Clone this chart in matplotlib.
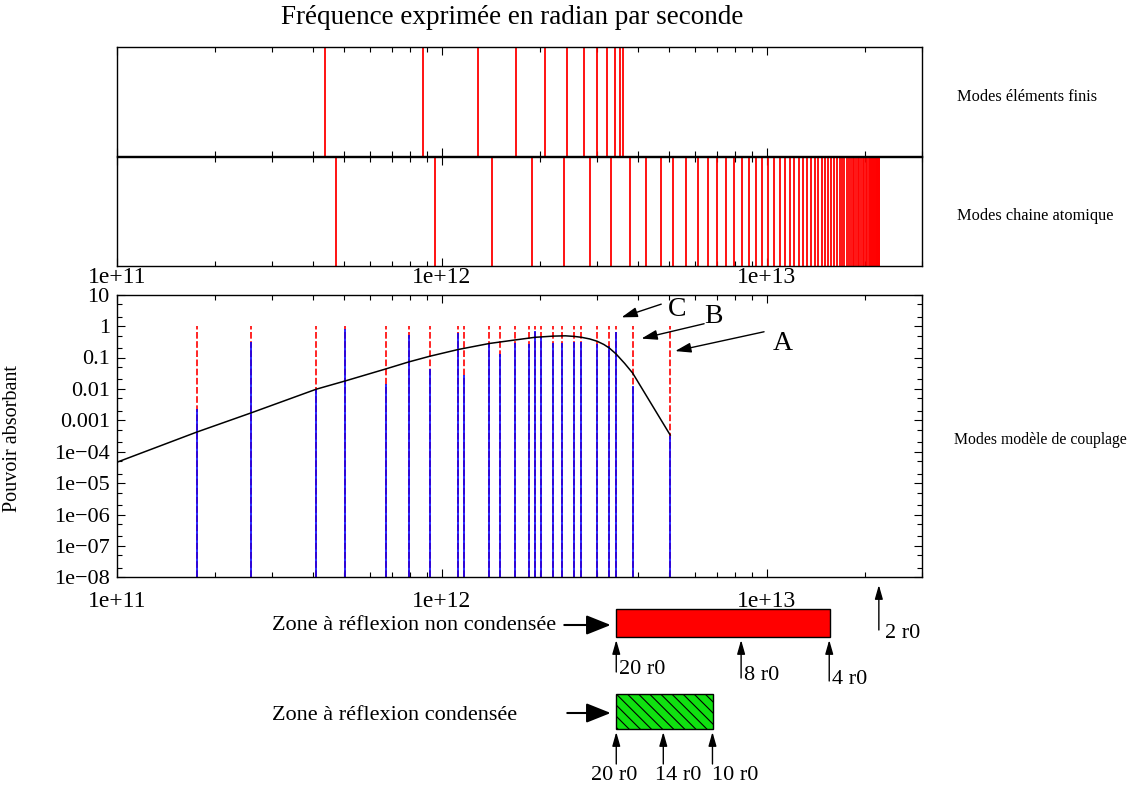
import numpy as np
import matplotlib
matplotlib.use("Agg")
import matplotlib.pyplot as plt
from matplotlib.ticker import LogLocator, NullFormatter

plt.rcParams['font.family'] = ['Liberation Serif', 'DejaVu Serif']
plt.rcParams['hatch.linewidth'] = 0.8

# modes elements finis (rad/s)
fe_modes = [4.38e11, 8.72e11, 1.29e12, 1.69e12, 2.07e12, 2.42e12, 2.73e12,
            3.00e12, 3.22e12, 3.41e12, 3.53e12, 3.62e12]

# modes chaine atomique (rad/s)
chain_modes = [4.74e11, 9.50e11, 1.43e12, 1.90e12, 2.38e12, 2.86e12, 3.32e12,
               3.79e12, 4.26e12, 4.73e12, 5.15e12, 5.63e12, 6.12e12, 6.58e12,
               7.02e12, 7.48e12, 7.93e12, 8.37e12, 8.82e12, 9.27e12, 9.69e12,
               1.011e13, 1.052e13, 1.095e13, 1.137e13, 1.176e13, 1.215e13,
               1.253e13, 1.292e13, 1.329e13, 1.367e13, 1.404e13, 1.440e13,
               1.475e13, 1.510e13, 1.545e13, 1.578e13, 1.612e13, 1.643e13,
               1.675e13, 1.702e13, 1.730e13, 1.760e13, 1.785e13, 1.810e13,
               1.836e13, 1.857e13, 1.879e13, 1.902e13, 1.926e13, 1.950e13,
               1.972e13, 1.994e13, 2.016e13, 2.036e13, 2.054e13, 2.073e13,
               2.091e13, 2.107e13, 2.124e13, 2.139e13, 2.153e13, 2.165e13,
               2.177e13, 2.188e13, 2.197e13, 2.205e13, 2.213e13, 2.219e13]

# modes modele de couplage : frequence et pouvoir absorbant
coupling_freq = [1.76e11, 2.58e11, 4.11e11, 5.05e11, 6.71e11, 7.90e11, 9.19e11,
                 1.123e12, 1.172e12, 1.401e12, 1.508e12, 1.673e12, 1.856e12,
                 1.936e12, 2.020e12, 2.204e12, 2.344e12, 2.551e12, 2.687e12,
                 3.002e12, 3.275e12, 3.434e12, 3.863e12, 5.04e12]
coupling_abs = [2.3e-3, 0.32, 9.8e-3, 0.79, 0.0145, 0.52, 0.043, 0.62, 0.028,
                0.28, 0.126, 0.30, 0.26, 0.70, 0.46, 0.30, 0.30, 0.32, 0.32,
                0.27, 0.24, 0.66, 0.0123, 3.2e-4]

# enveloppe du pouvoir absorbant
curve_freq = [1.0e11, 1.76e11, 2.58e11, 4.11e11, 5.05e11, 6.71e11, 7.90e11,
              9.19e11, 1.123e12, 1.401e12, 1.673e12, 1.936e12, 2.204e12,
              2.400e12, 2.551e12, 2.687e12, 2.850e12, 3.002e12, 3.150e12,
              3.275e12, 3.434e12, 3.650e12, 3.863e12, 4.35e12, 5.04e12]
curve_abs = [4.6e-5, 4.2e-4, 1.7e-3, 9.8e-3, 0.018, 0.043, 0.072, 0.11, 0.18,
             0.28, 0.36, 0.44, 0.48, 0.49, 0.47, 0.44, 0.39, 0.33, 0.26,
             0.20, 0.13, 0.065, 0.032, 4.2e-3, 3.4e-4]

# zones de reflexion
zone_nc = [3.44e12, 1.565e13]
zone_c = [3.44e12, 6.85e12]
nc_marks = [3.44e12, 8.33e12, 1.555e13]
nc_labels = ['20 r0', '8 r0', '4 r0']
c_marks = [3.44e12, 4.80e12, 6.80e12]
c_labels = ['20 r0', '14 r0', '10 r0']
extra_mark = 2.21e13
extra_label = '2 r0'

xticks = [1e11, 1e12, 1e13]
xtick_labels = ['1e+11', '1e+12', '1e+13']
yticks = [1e-8, 1e-7, 1e-6, 1e-5, 1e-4, 1e-3, 1e-2, 1e-1, 1, 10]
ytick_labels = ['1e\u221208', '1e\u221207', '1e\u221206', '1e\u221205', '1e\u221204',
                '0.001', '0.01', '0.1', '1', '10']

W, H = 1133, 787
fig = plt.figure(figsize=(W / 100, H / 100), dpi=100)

left = 116.8 / W
width = (922 - 116.8) / W
xlim = (1e11, 3e13)


def setup_x(ax):
    ax.set_xscale('log')
    ax.set_xlim(*xlim)
    ax.set_xticks(xticks)
    ax.set_xticklabels(xtick_labels)
    ax.xaxis.set_minor_locator(LogLocator(base=10, subs=np.arange(2, 10), numticks=20))
    ax.xaxis.set_minor_formatter(NullFormatter())
    ax.tick_params(which='both', direction='in', top=True, right=True)
    ax.tick_params(axis='x', labelsize=17)
    ax.tick_params(axis='y', labelsize=16)
    ax.tick_params(which='major', length=6, width=0.8)
    ax.tick_params(which='minor', length=3.5, width=0.8)
    for s in ax.spines.values():
        s.set_linewidth(1.0)


ax1 = fig.add_axes([left, 1 - 156 / H, width, 109 / H])
ax2 = fig.add_axes([left, 1 - 266 / H, width, 109 / H])
ax3 = fig.add_axes([left, 1 - 577.3 / H, width, 282.6 / H])

for ax in (ax1, ax2):
    setup_x(ax)
    ax.set_ylim(0, 1)
    ax.set_yticks([])

ax1.vlines(fe_modes, 0, 1, colors='red', lw=1.3)
ax1.tick_params(labelbottom=False)

ax2.vlines(chain_modes, 0, 1, colors='red', lw=1.3)
ax2.tick_params(axis='x', which='major', pad=1)

setup_x(ax3)
ax3.set_yscale('log')
ax3.set_ylim(1e-8, 10)
ax3.set_yticks(yticks)
ax3.set_yticklabels(ytick_labels)
ax3.yaxis.set_minor_locator(LogLocator(base=10, subs=(2.0, 5.0), numticks=30))
ax3.yaxis.set_minor_formatter(NullFormatter())
ax3.tick_params(axis='x', which='major', pad=10)
ax3.tick_params(axis='y', which='major', pad=5)

ax3.vlines(coupling_freq, 1e-8, 1.0, colors='red', lw=1.2, linestyles=(0, (4, 1.5)))
ax3.vlines(coupling_freq, 1e-8, coupling_abs, colors='blue', lw=1.3, alpha=0.9)
ax3.plot(curve_freq, curve_abs, color='black', lw=1.1)

ax3.set_ylabel('Pouvoir absorbant', fontsize=14.5)
ax3.yaxis.set_label_coords(-0.118, 0.49)

small_arrow = dict(arrowstyle='-|>,head_length=0.8,head_width=0.25', color='black',
                   lw=1.0, mutation_scale=12, shrinkA=0, shrinkB=0)
for tip, tail, txt, pos in [((3.57e12, 1.9), (4.73e12, 5.0), 'C', (4.97e12, 3.5)),
                            ((4.11e12, 0.40), (6.41e12, 1.19), 'B', (6.41e12, 2.09)),
                            ((5.22e12, 0.16), (9.8e12, 0.66), 'A', (1.04e13, 0.28))]:
    ax3.annotate('', xy=tip, xytext=tail, arrowprops=small_arrow, annotation_clip=False)
    ax3.text(pos[0], pos[1], txt, fontsize=20, ha='left', va='center')

# zone des reflexions (coordonnees y en pixels)
axz = fig.add_axes([left, 0, width, 205 / H])
axz.set_xscale('log')
axz.set_xlim(*xlim)
axz.set_ylim(787, 582)
axz.axis('off')

axz.barh(623, zone_nc[1] - zone_nc[0], left=zone_nc[0], height=28,
         color='red', edgecolor='black', lw=1.0)
axz.barh(711, zone_c[1] - zone_c[0], left=zone_c[0], height=35,
         color='#10e010', edgecolor='black', lw=1.0, hatch='\\\\\\')

big_arrow = dict(arrowstyle='-|>,head_length=1.0,head_width=0.4', color='black',
                 lw=1.5, mutation_scale=15, shrinkA=0, shrinkB=4)
axz.annotate('', xy=(zone_nc[0], 625), xytext=(-52, 0), textcoords='offset pixels',
             arrowprops=big_arrow)
axz.annotate('', xy=(zone_c[0], 713), xytext=(-49, 0), textcoords='offset pixels',
             arrowprops=big_arrow)

up_arrow = dict(arrowstyle='-|>,head_length=0.7,head_width=0.2', color='black',
                lw=1.0, mutation_scale=12, shrinkA=0, shrinkB=0)
nc_label_y = [670, 676, 679]
for f, lab, ly in zip(nc_marks, nc_labels, nc_label_y):
    axz.annotate('', xy=(f, 640), xytext=(f, ly + 2), arrowprops=up_arrow)
    axz.annotate(lab, xy=(f, ly), xytext=(3, 0), textcoords='offset pixels',
                 ha='left', va='center', fontsize=16)
c_label_dx = [-2, 15, 23]
for f, lab, dx in zip(c_marks, c_labels, c_label_dx):
    axz.annotate('', xy=(f, 732), xytext=(f, 764), arrowprops=up_arrow)
    axz.annotate(lab, xy=(f, 776), xytext=(dx, 0), textcoords='offset pixels',
                 ha='center', va='center', fontsize=16)
axz.annotate('', xy=(extra_mark, 585), xytext=(extra_mark, 630), arrowprops=up_arrow)
axz.annotate(extra_label, xy=(extra_mark, 633), xytext=(6, 0), textcoords='offset pixels',
             ha='left', va='center', fontsize=16)

fig.text(272 / W, 1 - 625 / H, 'Zone à réflexion non condensée', fontsize=16, va='center')
fig.text(272 / W, 1 - 716 / H, 'Zone à réflexion condensée', fontsize=16, va='center')

fig.text(512 / W, 1 - 18 / H, 'Fréquence exprimée en radian par seconde',
         fontsize=19.5, ha='center', va='center')
fig.text(957 / W, 1 - 97 / H, 'Modes éléments finis', fontsize=11.8, va='center')
fig.text(957 / W, 1 - 216 / H, 'Modes chaine atomique', fontsize=11.8, va='center')
fig.text(954 / W, 1 - 440 / H, 'Modes modèle de couplage', fontsize=11.3, va='center')

fig.savefig('out.png', dpi=100)
